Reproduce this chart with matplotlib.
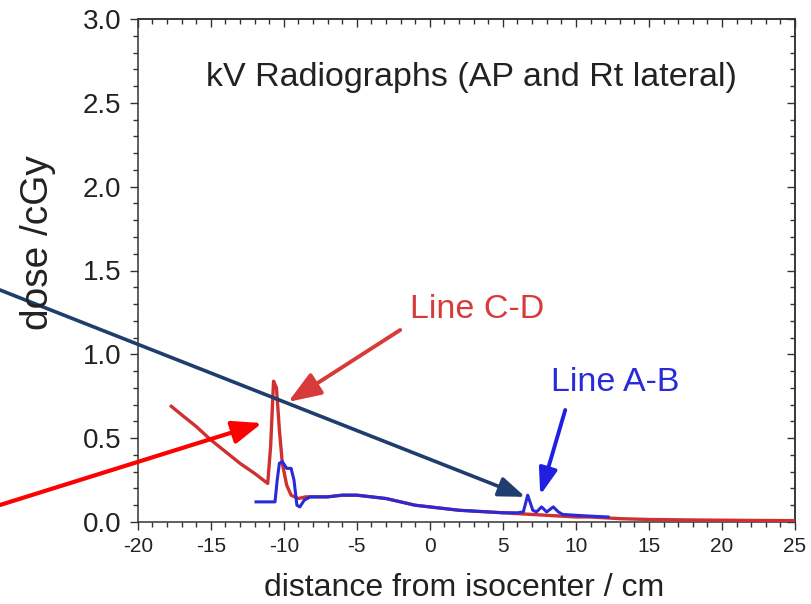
import matplotlib
matplotlib.use("Agg")
import matplotlib.pyplot as plt
from matplotlib.ticker import MultipleLocator

plt.rcParams['font.family'] = ['Liberation Sans', 'DejaVu Sans']
plt.rcParams['axes.unicode_minus'] = False

# Line C-D (red)
cd_x = [-17.7, -17, -16, -15, -14, -13, -12, -11.1, -10.9, -10.7, -10.5, -10.3, -10.1,
        -9.8, -9.5, -9.0, -8.5, -8, -7, -6, -5, -4, -3, -2, -1, 0, 1, 2, 3, 4, 5, 6,
        7, 8, 9, 10, 11, 12, 13, 15, 18, 21, 25]
cd_y = [0.69, 0.64, 0.57, 0.49, 0.42, 0.35, 0.29, 0.23, 0.45, 0.84, 0.80, 0.55, 0.35,
        0.22, 0.16, 0.14, 0.15, 0.15, 0.15, 0.16, 0.16, 0.15, 0.14, 0.12, 0.10, 0.09,
        0.08, 0.07, 0.065, 0.06, 0.055, 0.05, 0.045, 0.04, 0.035, 0.03, 0.03, 0.025,
        0.02, 0.015, 0.012, 0.01, 0.008]

# Line A-B (blue)
ab_x = [-11.9, -11, -10.6, -10.45, -10.3, -10.1, -9.8, -9.5, -9.3, -9.1, -8.9, -8.6,
        -8.2, -7, -6, -5, -4, -3, -2, -1, 0, 1, 2, 3, 4, 5, 6, 6.4, 6.7, 7.05, 7.3,
        7.65, 8.0, 8.45, 8.8, 9.1, 10, 11, 12.2]
ab_y = [0.12, 0.12, 0.12, 0.25, 0.35, 0.36, 0.32, 0.32, 0.25, 0.10, 0.09, 0.13,
        0.15, 0.15, 0.16, 0.16, 0.15, 0.14, 0.12, 0.10, 0.09, 0.08, 0.07, 0.065, 0.06,
        0.055, 0.055, 0.06, 0.16, 0.07, 0.06, 0.09, 0.06, 0.09, 0.06, 0.045, 0.04,
        0.035, 0.03]

title_text = "kV Radiographs (AP and Rt lateral)"
x_label = "distance from isocenter / cm"
y_label = "dose /cGy"

fig = plt.figure(figsize=(8.12, 6.04), dpi=100)
ax = fig.add_axes([137.7/812, 1-522/604, (795-137.7)/812, (522-19)/604])

ax.plot(cd_x, cd_y, color='#d03030', lw=2.4, zorder=3)
ax.plot(ab_x, ab_y, color='#2a2ad8', lw=2.2, zorder=4)

ax.set_xlim(-20, 25)
ax.set_ylim(0, 3.0)
ax.xaxis.set_major_locator(MultipleLocator(5))
ax.xaxis.set_minor_locator(MultipleLocator(1))
ax.yaxis.set_major_locator(MultipleLocator(0.5))
ax.yaxis.set_minor_locator(MultipleLocator(0.1))
ax.yaxis.set_major_formatter(matplotlib.ticker.FormatStrFormatter('%.1f'))

for s in ax.spines.values():
    s.set_color('#333333')
    s.set_linewidth(1.1)

ax.tick_params(which='both', direction='out', top=False, right=False, color='#333333', width=1.0)
ax.tick_params(which='major', length=6)
ax.tick_params(which='minor', length=3.5)
ax.tick_params(axis='y', labelsize=20, pad=6, labelcolor='#222222')
ax.tick_params(axis='x', labelsize=15, pad=5, labelcolor='#222222')

sx = ax.secondary_xaxis('top')
sx.xaxis.set_major_locator(MultipleLocator(5))
sx.xaxis.set_minor_locator(MultipleLocator(1))
sx.tick_params(which='both', direction='in', labeltop=False, color='#333333', width=1.0)
sx.tick_params(which='major', length=6)
sx.tick_params(which='minor', length=3.5)
sy = ax.secondary_yaxis('right')
sy.yaxis.set_major_locator(MultipleLocator(0.5))
sy.yaxis.set_minor_locator(MultipleLocator(0.1))
sy.tick_params(which='both', direction='in', labelright=False, color='#333333', width=1.0)
sy.tick_params(which='major', length=6)
sy.tick_params(which='minor', length=3.5)
for sa in (sx, sy):
    for s in sa.spines.values():
        s.set_color('#333333')
        s.set_linewidth(1.1)

fig.text(464/812, 1-588/604, x_label, fontsize=23, ha='center', va='center', color='#222222')
fig.text(38/812, 1-243/604, y_label, fontsize=28, ha='center', va='center', rotation=90, color='#222222')

ax.text(0.508, 0.883, title_text, transform=ax.transAxes, fontsize=24.5,
        ha='center', va='center', color='#222222')

ax.text(3.25, 1.27, "Line C-D", fontsize=24.5, color='#d83a3a', ha='center', va='center')
ax.text(12.7, 0.83, "Line A-B", fontsize=24.5, color='#2a2ad8', ha='center', va='center')

ax.annotate("", xy=(-9.70, 0.716), xytext=(-2.03, 1.145), xycoords='data', textcoords='data',
            arrowprops=dict(arrowstyle='-|>,head_length=2.0,head_width=0.75', color='#d83a3a', lw=2.8,
                            shrinkA=0, shrinkB=0), zorder=5)
ax.annotate("", xy=(7.56, 0.16), xytext=(9.27, 0.668), xycoords='data', textcoords='data',
            arrowprops=dict(arrowstyle='-|>,head_length=1.6,head_width=0.55', color='#2020e0', lw=2.8,
                            shrinkA=0, shrinkB=0), zorder=5)

ax.annotate("", xy=(6.53, 0.15), xytext=(0.0, 1-290/604), xycoords='data', textcoords='figure fraction',
            arrowprops=dict(arrowstyle='-|>,head_length=1.6,head_width=0.6', color='#1f3d6e', lw=2.6,
                            shrinkA=0, shrinkB=0), zorder=6, annotation_clip=False)
ax.annotate("", xy=(-11.49, 0.59), xytext=(0.0, 1-505/604), xycoords='data', textcoords='figure fraction',
            arrowprops=dict(arrowstyle='-|>,head_length=1.8,head_width=0.7', color='#ff0000', lw=3.0,
                            shrinkA=0, shrinkB=0), zorder=6, annotation_clip=False)

fig.savefig("out.png", dpi=100)
